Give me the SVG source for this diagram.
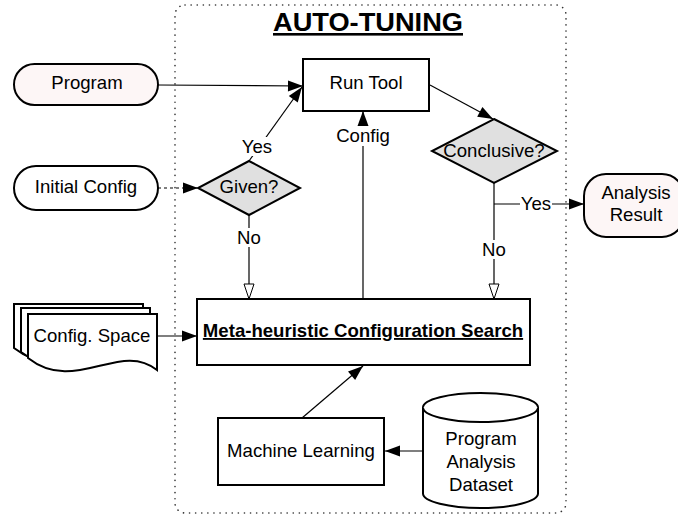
<svg xmlns="http://www.w3.org/2000/svg" width="678" height="523" viewBox="0 0 678 523">
<defs>
<style>
text{font-family:"Liberation Sans",Arial,sans-serif;font-size:18.6px;fill:#000;text-anchor:middle}
.node{stroke:#000;stroke-width:2;fill:#fff}
.pink{fill:#fdf6f6}
.dec{fill:#e0e0e0}
.edge{stroke:#000;stroke-width:1.2;fill:none}
.lbl{fill:#fff;stroke:none}
</style>
<marker id="fa" markerUnits="userSpaceOnUse" markerWidth="17" markerHeight="13" refX="16" refY="6.5" orient="auto">
<path d="M1,1 L16,6.5 L1,12 Z" fill="#000"/>
</marker>
<marker id="oa" markerUnits="userSpaceOnUse" markerWidth="17" markerHeight="13" refX="16" refY="6.5" orient="auto">
<path d="M1,1.5 L16,6.5 L1,11.5 Z" fill="#fff" stroke="#000" stroke-width="1"/>
</marker>
</defs>
<rect width="678" height="523" fill="#fff"/>

<g id="autotuning-frame">
<rect x="175" y="5" width="391" height="508" rx="10" fill="none" stroke="#333" stroke-width="1.6" stroke-dasharray="0.1 6" stroke-linecap="round"/>
<text x="368" y="31" style="font-size:26px;font-weight:bold;text-decoration:underline" textLength="190" lengthAdjust="spacingAndGlyphs">AUTO-TUNING</text>
</g>

<g id="connectors">
<line class="edge" x1="158" y1="85" x2="303" y2="86" marker-end="url(#fa)"/>
<line class="edge" x1="249" y1="161" x2="302" y2="87" marker-end="url(#fa)"/>
<line class="edge" x1="158" y1="188" x2="198" y2="188" stroke-dasharray="3 3" marker-end="url(#fa)"/>
<line class="edge" x1="249" y1="215" x2="249" y2="299" marker-end="url(#oa)"/>
<line class="edge" x1="363" y1="299" x2="363" y2="111" marker-end="url(#fa)"/>
<line class="edge" x1="430" y1="85" x2="493" y2="119" marker-end="url(#fa)"/>
<line class="edge" x1="494" y1="183" x2="494" y2="299" marker-end="url(#oa)"/>
<polyline class="edge" points="494,204 584,204" marker-end="url(#fa)"/>
<line class="edge" x1="157" y1="336" x2="197" y2="336" marker-end="url(#fa)"/>
<line class="edge" x1="302" y1="418" x2="363" y2="366" marker-end="url(#fa)"/>
<line class="edge" x1="423" y1="451" x2="385" y2="451" marker-end="url(#fa)"/>
<rect class="lbl" x="241" y="137" width="32" height="19"/>
<text x="257" y="153">Yes</text>
<rect class="lbl" x="335" y="126" width="56" height="20"/>
<text x="363" y="142">Config</text>
<rect class="lbl" x="520" y="195" width="32" height="18"/>
<text x="536" y="210">Yes</text>
<rect class="lbl" x="481" y="240" width="26" height="19"/>
<text x="494" y="256">No</text>
<rect class="lbl" x="236" y="228" width="26" height="19"/>
<text x="249" y="244">No</text>
</g>

<g id="program">
<rect class="node pink" x="14" y="64" width="144" height="41" rx="20.5"/>
<text x="87" y="89">Program</text>
</g>

<g id="initial-config">
<rect class="node" x="14" y="166" width="144" height="44" rx="22"/>
<text x="86" y="193">Initial Config</text>
</g>

<g id="run-tool">
<rect class="node" x="303" y="59" width="126" height="52"/>
<text x="366" y="89">Run Tool</text>
</g>

<g id="given">
<polygon class="node dec" points="249,161 300,188 249,215 198,188"/>
<text x="249" y="193">Given?</text>
</g>

<g id="conclusive">
<polygon class="node dec" points="494,119 557,151 494,183 432,151"/>
<text x="494" y="157">Conclusive?</text>
</g>

<g id="analysis-result">
<rect class="node pink" x="584" y="174" width="100" height="63" rx="22"/>
<text x="636" y="199">Analysis</text>
<text x="636" y="221">Result</text>
</g>

<g id="config-space">
<path class="node" d="M14,304 H143 V360 C106,330 61,385 14,348 Z"/>
<path class="node" d="M21,308 H150 V364 C113,334 68,389 21,352 Z"/>
<path class="node" d="M28,314 H157 V370 C120,340 75,395 28,358 Z"/>
<text x="92" y="342">Config. Space</text>
</g>

<g id="meta-search">
<rect class="node" x="197" y="299" width="333" height="66"/>
<text x="363" y="337" style="font-weight:bold;text-decoration:underline">Meta-heuristic Configuration Search</text>
</g>

<g id="machine-learning">
<rect class="node" x="218" y="418" width="166" height="67"/>
<text x="301" y="457">Machine Learning</text>
</g>

<g id="dataset">
<path class="node" d="M423,407.5 A57.5,14.5 0 0 1 538,407.5 V493.5 A57.5,14.5 0 0 1 423,493.5 Z"/>
<path class="node" d="M423,407.5 A57.5,14.5 0 0 0 538,407.5" fill="none"/>
<text x="481" y="445">Program</text>
<text x="481" y="468">Analysis</text>
<text x="481" y="491">Dataset</text>
</g>
</svg>
